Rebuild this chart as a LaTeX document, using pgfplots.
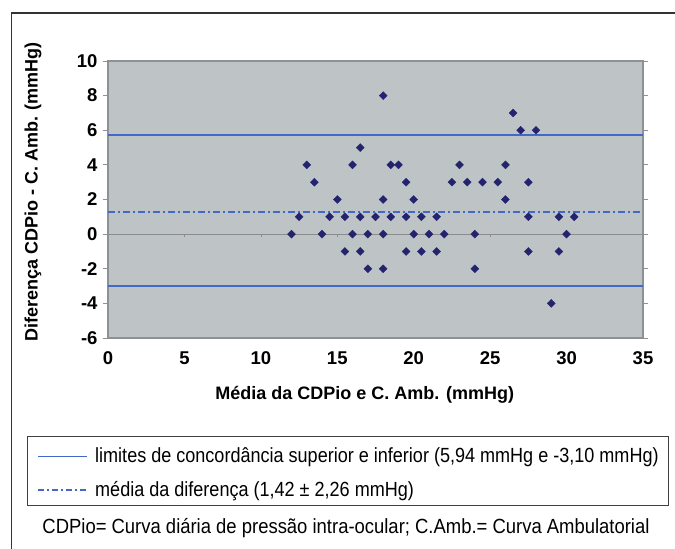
\documentclass[border=0pt]{standalone}
\usepackage{fontspec}
\setmainfont{Liberation Sans}
\newfontfamily\narrowfont[FakeStretch=0.88]{Liberation Sans}
\newfontfamily\footfont[FakeStretch=0.90]{Liberation Sans}
\usepackage{pgfplots}
\pgfplotsset{compat=1.18}
\definecolor{bgc}{RGB}{190,195,198}
\definecolor{framec}{RGB}{140,145,148}
\definecolor{navy}{RGB}{36,36,110}
\definecolor{linec}{RGB}{66,104,200}
\begin{document}
\begin{tikzpicture}[x=1pt,y=1pt]
\useasboundingbox (0,0) rectangle (675,549);
% outer frame (open at right and bottom in the reference)
\draw[black!80, line width=1.3pt] (11.5,0) -- (11.5,536) -- (675,536);
% legend box
\draw[black!75, line width=1pt] (27,43) rectangle (668,112);
\draw[linec, line width=1.6pt] (38,92.5) -- (87,92.5);
\draw[linec, line width=1.4pt, dash pattern=on 6pt off 3pt on 2pt off 3pt] (38,59) -- (87,59);
\node[anchor=base west, inner sep=0pt, font=\narrowfont\fontsize{20.5}{20.5}\selectfont] at (95,86) {limites de concordância superior e inferior (5,94 mmHg e -3,10 mmHg)};
\node[anchor=base west, inner sep=0pt, font=\narrowfont\fontsize{20.5}{20.5}\selectfont] at (95,52.5) {média da diferença (1,42 ± 2,26 mmHg)};
\node[font=\footfont\fontsize{20.5}{20.5}\selectfont] at (346,21) {CDPio= Curva diária de pressão intra-ocular; C.Amb.= Curva Ambulatorial};
\begin{axis}[
  at={(108pt,211pt)}, anchor=south west,
  scale only axis, width=535pt, height=277pt,
  xmin=0, xmax=35, ymin=-6, ymax=10,
  xtick={0,5,...,35}, ytick={-6,-4,...,10},
  axis background/.style={fill=bgc},
  axis line style={draw=framec, line width=1.2pt},
  major x tick style={draw=none},
  major y tick style={draw=framec, line width=0.8pt},
  tick align=outside, major tick length=5pt,
  /pgf/number format/assume math mode=true,
  ticklabel style={font=\bfseries\fontsize{18.5}{18.5}\selectfont},
  xticklabel style={yshift=-5pt},
  yticklabel style={xshift=-2pt},
  xlabel={Média da CDPio e C. Amb. (mmHg)},
  ylabel={Diferença CDPio - C. Amb. (mmHg)},
  label style={font=\bfseries\fontsize{18}{18}\selectfont},
  xlabel style={at={(axis description cs:0.48,-0.206)}, anchor=center},
  ylabel style={at={(axis description cs:-0.14,0.527)}, anchor=center, rotate=0},
  clip=false,
]
% zero line
\draw[black!45, line width=0.8pt] (axis cs:0,0) -- (axis cs:35,0);
\pgfplotsinvokeforeach{5,10,...,30}{\draw[black!45, line width=0.6pt] (axis cs:#1,0) -- ([yshift=-3pt]axis cs:#1,0);}
% limits of agreement
\addplot[color=linec, line width=1.9pt] coordinates {(0,5.75) (35,5.75)};
\addplot[color=linec, line width=1.9pt] coordinates {(0,-3.02) (35,-3.02)};
% mean difference
\addplot[color=linec, line width=1.9pt, dash pattern=on 7pt off 3pt on 2pt off 3pt] coordinates {(0,1.30) (35,1.30)};
\addplot[only marks, mark=square*, mark size=2.8pt, mark options={rotate=45, fill=navy, draw=navy}] coordinates {
(12,0) (12.5,1) (13,4) (13.5,3) (14,0) (14.5,1) (15,2) (15.5,1) (15.5,-1)
(16,4) (16,0) (16.5,5) (16.5,1) (16.5,-1) (17,0) (17,-2) (17.5,1)
(18,8) (18,2) (18,0) (18,-2) (18.5,4) (18.5,1) (19,4)
(19.5,3) (19.5,1) (19.5,-1) (20,2) (20,0) (20.5,1) (20.5,-1) (21,0)
(21.5,1) (21.5,-1) (22,0) (22.5,3) (23,4) (23.5,3) (24,0) (24,-2)
(24.5,3) (25.5,3) (26,4) (26,2) (26.5,7) (27,6) (27.5,3) (27.5,1) (27.5,-1)
(28,6) (29,-4) (29.5,1) (29.5,-1) (30,0) (30.5,1)
};
\end{axis}
\end{tikzpicture}
\end{document}
